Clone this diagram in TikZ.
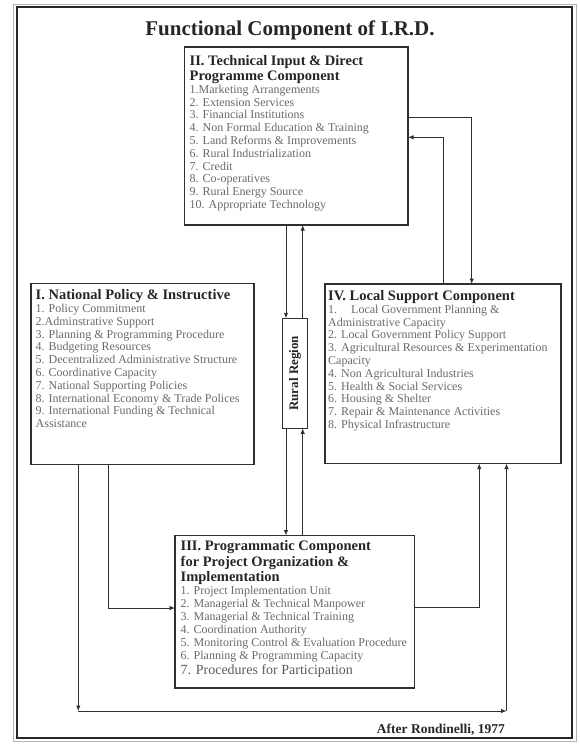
\documentclass[tikz,border=0pt]{standalone}
\usepackage{fontspec}
\setmainfont{Liberation Serif}
\usetikzlibrary{arrows.meta,calc}
\definecolor{ink}{HTML}{262626}
\definecolor{itemgray}{HTML}{6A6A6A}
\definecolor{linec}{HTML}{303030}
\begin{document}
\begin{tikzpicture}[x=1pt,y=-1pt,
  box/.style={draw=linec, line width=1.2pt, fill=white, inner sep=0pt, outer sep=0pt, anchor=north west},
  hd/.style={font=\fontsize{14.5}{16}\selectfont\bfseries, text=ink, inner sep=0pt, anchor=base west},
  it/.style={font=\fontsize{12}{13}\selectfont, text=itemgray, inner sep=0pt, anchor=base west},
  arr/.style={draw=linec, line width=0.9pt, -{Latex[length=5.5pt,width=4.5pt]}}]
\useasboundingbox (0,0) rectangle (579,744);
% frame
\draw[gray!60, line width=0.7pt] (13.3,4.4) rectangle (576.3,741.2);
\draw[ink, line width=2pt] (16.7,7.3) rectangle (571.5,738.3);
% title
\node[font=\fontsize{21}{24}\selectfont\bfseries, text=ink, inner sep=0pt, anchor=base] (title) at (290,35) {Functional Component of I.R.D.};
% boxes
\node[box, minimum width=223.5pt, minimum height=178pt] (II) at (184.5,47) {};
\node[box, minimum width=223pt, minimum height=181pt] (I) at (31,283.3) {};
\node[box, minimum width=236pt, minimum height=179.5pt] (IV) at (325,284) {};
\node[box, minimum width=239.5pt, minimum height=152.5pt] (III) at (175,535.5) {};
\node[box, minimum width=25pt, minimum height=110pt] (R) at (282.5,318.3) {};
\node[font=\fontsize{13}{15}\selectfont\bfseries, text=ink, rotate=90, inner sep=0pt] (Rt) at (R.center) {Rural Region};
% box II text
\node[hd] (II-h1) at (189.5,65) {II. Technical Input \& Direct};
\node[hd] (II-h2) at (189.5,80.5) {Programme Component};
\foreach \t [count=\i from 0] in {{1.Marketing Arrangements},{2. Extension Services},{3. Financial Institutions},{4. Non Formal Education \& Training},{5. Land Reforms \& Improvements},{6. Rural Industrialization},{7. Credit},{8. Co-operatives},{9. Rural Energy Source},{10. Appropriate Technology}}
  \node[it] (II-i\i) at (189.5,{93.3+12.8*\i}) {\t};
% box I text
\node[hd] (I-h1) at (35.5,299.5) {I. National Policy \& Instructive};
\foreach \t [count=\i from 0] in {{1. Policy Commitment},{2.Adminstrative Support},{3. Planning \& Programming Procedure},{4. Budgeting Resources},{5. Decentralized Administrative Structure},{6. Coordinative Capacity},{7. National Supporting Policies},{8. International Economy \& Trade Polices},{9. International Funding \& Technical},{Assistance}}
  \node[it] (I-i\i) at (35.5,{312.5+12.8*\i}) {\t};
% box IV text
\node[hd] (IV-h1) at (328,300) {IV. Local Support Component};
\foreach \t [count=\i from 0] in {{1.\hspace{14pt}Local Government Planning \&},{Administrative Capacity},{2. Local Government Policy Support},{3. Agricultural Resources \& Experimentation},{Capacity},{4. Non Agricultural Industries},{5. Health \& Social Services},{6. Housing \& Shelter},{7. Repair \& Maintenance Activities},{8. Physical Infrastructure}}
  \node[it] (IV-i\i) at (328,{313.3+12.8*\i}) {\t};
% box III text
\node[hd] (III-h1) at (180.5,550) {III. Programmatic Component};
\node[hd] (III-h2) at (180.5,566) {for Project Organization \&};
\node[hd] (III-h3) at (180.5,581.7) {Implementation};
\foreach \t [count=\i from 0] in {{1. Project Implementation Unit},{2. Managerial \& Technical Manpower},{3. Managerial \& Technical Training},{4. Coordination Authority},{5. Monitoring Control \& Evaluation Procedure},{6. Planning \& Programming Capacity}}
  \node[it] (III-i\i) at (180.5,{594.3+13.1*\i}) {\t};
\node[it, font=\fontsize{14}{16}\selectfont, text=ink!75] (III-i6) at (180.5,674) {7. Procedures for Participation};
% source
\node[font=\fontsize{13.5}{16}\selectfont\bfseries, text=ink, inner sep=0pt, anchor=base east] (src) at (505,733) {After Rondinelli, 1977};
% connectors
\coordinate (xa) at (286,0);
\coordinate (xb) at (302.7,0);
\draw[arr] (II.south -| xa) -- (R.north -| xa);
\draw[arr] (R.north -| xb) -- (II.south -| xb);
\draw[arr] (R.south -| xa) -- (III.north -| xa);
\draw[arr] (III.north -| xb) -- (R.south -| xb);
\coordinate (ka) at (471.7,117.3);
\coordinate (kb) at (443.3,137.3);
\draw[arr] (II.east |- ka) -- (ka) -- (IV.north -| ka);
\draw[arr] (IV.north -| kb) -- (kb) -- (II.east |- kb);
\coordinate (la) at (78.3,711);
\coordinate (lb) at (506.5,711);
\draw[arr] (I.south -| la) -- (la);
\draw[arr] (la) -- (lb);
\draw[arr] (lb) -- (IV.south -| lb);
\coordinate (ma) at (108.3,608);
\draw[arr] (I.south -| ma) -- (ma) -- (III.west |- ma);
\coordinate (na) at (479.3,607);
\draw[arr] (III.east |- na) -- (na) -- (IV.south -| na);
\end{tikzpicture}
\end{document}
